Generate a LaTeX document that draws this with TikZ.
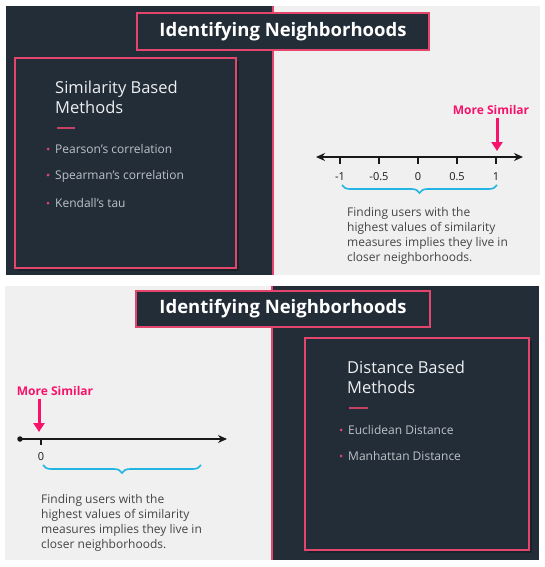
\documentclass[tikz,border=0pt]{standalone}
\usepackage{fontspec}
\setmainfont{Open Sans}
\usetikzlibrary{arrows.meta,decorations.pathreplacing}

\definecolor{slate}{HTML}{232D38}
\definecolor{paper}{HTML}{F0F0F0}
\definecolor{rose}{HTML}{E4456D}
\definecolor{hotpink}{HTML}{F7136C}
\definecolor{sky}{HTML}{22B4E2}
\definecolor{ink}{HTML}{454545}
\definecolor{headtext}{HTML}{EDEFF1}
\definecolor{listtext}{HTML}{BCC2C8}

\tikzset{
  titlebox/.style={draw=rose, line width=2.5pt, fill=slate, text=white,
    font=\fontsize{18.5}{22}\selectfont\bfseries,
    minimum width=292pt, minimum height=37pt, inner sep=0pt},
  methodbox/.style={draw=rose, line width=2pt, fill=slate, inner sep=0pt},
  heading/.style={text=headtext, font=\fontsize{16.5}{19.5}\selectfont,
    anchor=north west, align=left, inner sep=0pt},
  listitem/.style={text=listtext, font=\fontsize{12}{14}\selectfont,
    anchor=base west, inner sep=0pt},
  bulletdot/.style={circle, fill=rose, minimum size=3pt, inner sep=0pt},
  underdash/.style={draw=rose!85!slate, line width=1.5pt},
  divider/.style={draw=rose, line width=2pt},
  axis/.style={draw=black!90, line width=1.4pt},
  axistips/.style={axis, {Stealth[length=9pt,width=8pt]}-{Stealth[length=9pt,width=8pt]}},
  axistip/.style={axis, -{Stealth[length=9pt,width=8pt]}},
  tickmark/.style={draw=black!90, line width=1.4pt},
  ticklabel/.style={text=black!90, font=\fontsize{11}{13}\selectfont, inner sep=0pt},
  moresim/.style={text=hotpink, font=\fontsize{12}{14}\selectfont\bfseries, inner sep=0pt},
  pinkarrow/.style={draw=hotpink, line width=3pt, -{Triangle[length=9pt,width=11pt]}},
  bracestyle/.style={draw=sky, line width=1.6pt, decorate,
    decoration={brace, amplitude=8pt}},
  note/.style={text=ink, font=\fontsize{12}{15}\selectfont, anchor=north west,
    align=left, inner sep=0pt},
}

\begin{document}
\begin{tikzpicture}[x=1pt,y=-1pt]
\useasboundingbox (0,0) rectangle (544,567);
\fill[white] (0,0) rectangle (544,567);

% ---------- upper slide ----------
\fill[slate] (6,6) rectangle (273,275);
\fill[paper] (273,6) rectangle (540,275);
\draw[divider] (273,6) -- (273,275);

\node[titlebox] (title1) at (283,31.5) {Identifying Neighborhoods};

% similarity methods card
\fill[black, opacity=0.25] (18,61) rectangle (239,271);
\node[methodbox, minimum width=221pt, minimum height=210pt] (simbox) at (125.5,163) {};
\node[heading] (simhead) at (55,81) {Similarity Based\\Methods};
\draw[underdash] (57,128) -- (75,128);
\node[bulletdot] (sb1) at (48,149) {};
\node[listitem] (si1) at (55,153) {Pearson’s correlation};
\node[bulletdot] (sb2) at (48,175) {};
\node[listitem] (si2) at (55,179) {Spearman’s correlation};
\node[bulletdot] (sb3) at (48,203) {};
\node[listitem] (si3) at (55,207) {Kendall’s tau};

% correlation scale from -1 to 1
\coordinate (tl) at (316,157);
\coordinate (tr) at (523,157);
\draw[axistips] (tl) -- (tr);
\foreach \x/\lab/\n in {340/-1/a, 379/-0.5/b, 418/0/c, 457/0.5/d, 496/1/e}{
  \coordinate (tk\n) at (\x,157);
  \draw[tickmark] (tk\n) -- ++(0,7);
  \node[ticklabel] (lb\n) at (\x,177) {\lab};
}
\node[moresim] (ms1) at (491,110) {More Similar};
\coordinate (ms1tip) at (497,151);
\draw[pinkarrow, shorten <=3pt] (ms1.south -| ms1tip) -- (ms1tip);
\coordinate (br1r) at (497,185);
\coordinate (br1l) at (342,185);
\draw[bracestyle] (br1r) -- (br1l);
\node[note] (note1) at (347,207) {Finding users with the\\highest values of similarity\\measures implies they live in\\closer neighborhoods.};

% ---------- lower slide ----------
\fill[paper] (5,286) rectangle (272,560);
\fill[slate] (272,286) rectangle (539,560);
\draw[divider] (272,286) -- (272,560);

\node[titlebox, minimum width=294pt, minimum height=36pt] (title2) at (283,309) {Identifying Neighborhoods};

% distance methods card
\fill[black, opacity=0.25] (308,341) rectangle (532,553);
\node[methodbox, minimum width=224pt, minimum height=212pt] (distbox) at (417,444) {};
\node[heading] (disthead) at (347,361) {Distance Based\\Methods};
\draw[underdash] (349,408) -- (368,408);
\node[bulletdot] (db1) at (341,430) {};
\node[listitem] (di1) at (348,434) {Euclidean Distance};
\node[bulletdot] (db2) at (341,456) {};
\node[listitem] (di2) at (348,460) {Manhattan Distance};

% distance scale starting at 0
\node[circle, fill=black!90, minimum size=5.5pt, inner sep=0pt] (bdot) at (20,439) {};
\coordinate (br) at (227,439);
\draw[axistip] (bdot.center) -- (br);
\coordinate (tkz) at (41,439);
\draw[tickmark] (tkz) -- ++(0,6);
\node[ticklabel] (lbz) at (41,457) {0};
\node[moresim] (ms2) at (55,391) {More Similar};
\coordinate (ms2tip) at (39,432);
\draw[pinkarrow, shorten <=3pt] (ms2.south -| ms2tip) -- (ms2tip);
\coordinate (br2r) at (201,465);
\coordinate (br2l) at (43,465);
\draw[bracestyle] (br2r) -- (br2l);
\node[note] (note2) at (41,494) {Finding users with the\\highest values of similarity\\measures implies they live in\\closer neighborhoods.};
\end{tikzpicture}
\end{document}
